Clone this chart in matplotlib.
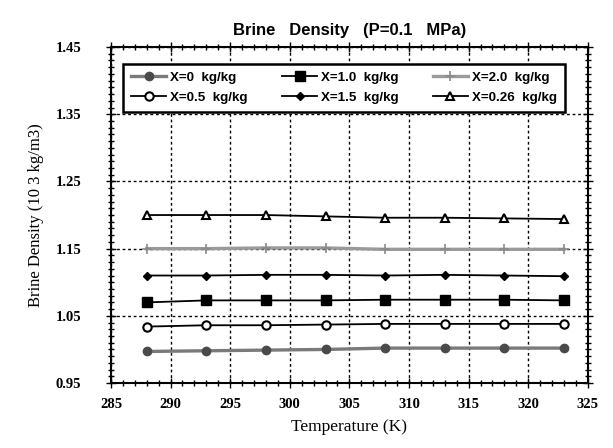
import numpy as np
import matplotlib
matplotlib.use("Agg")
import matplotlib.pyplot as plt
from matplotlib.ticker import MultipleLocator, FormatStrFormatter

# temperatures (K) and brine density (10^3 kg/m3)
temps = [288, 293, 298, 303, 308, 313, 318, 323]
rho_x0 = [0.997, 0.998, 0.999, 1.000, 1.002, 1.002, 1.002, 1.002]
rho_x05 = [1.034, 1.036, 1.036, 1.037, 1.038, 1.038, 1.038, 1.038]
rho_x10 = [1.070, 1.073, 1.073, 1.073, 1.074, 1.074, 1.074, 1.073]
rho_x15 = [1.110, 1.110, 1.111, 1.111, 1.110, 1.111, 1.110, 1.109]
rho_x20 = [1.150, 1.150, 1.151, 1.151, 1.149, 1.149, 1.149, 1.149]
rho_x026 = [1.200, 1.200, 1.200, 1.198, 1.196, 1.196, 1.195, 1.194]

labels = ["X=0  kg/kg", "X=0.5  kg/kg", "X=1.0  kg/kg",
          "X=1.5  kg/kg", "X=2.0  kg/kg", "X=0.26  kg/kg"]

serif = ["Liberation Serif", "DejaVu Serif"]
sans = ["Liberation Sans", "DejaVu Sans"]

fig = plt.figure(figsize=(6.13, 4.48), dpi=100)
ax = fig.add_axes([0.181, 0.145, 0.778, 0.75])

grey = "#7a7a7a"
ax.plot(temps, rho_x0, color=grey, lw=2.4, marker="o", ms=6,
        mfc="#4a4a4a", mec="#4a4a4a", label=labels[0])
ax.plot(temps, rho_x05, color="black", lw=1.3, marker="o", ms=6,
        mfc="white", mec="black", mew=1.5, label=labels[1])
ax.plot(temps, rho_x10, color="black", lw=1.3, marker="s", ms=6.5,
        mfc="black", mec="black", label=labels[2])
ax.plot(temps, rho_x15, color="black", lw=1.3, marker="D", ms=4.5,
        mfc="black", mec="black", label=labels[3])
ax.plot(temps, rho_x20, color="#9a9a9a", lw=2.4, marker="+", ms=7,
        mec="#8a8a8a", mew=1.2, label=labels[4])
ax.plot(temps, rho_x026, color="black", lw=1.3, marker="^", ms=6,
        mfc="white", mec="black", mew=1.5, label=labels[5])

ax.set_xlim(285, 325)
ax.set_ylim(0.95, 1.45)
ax.xaxis.set_major_locator(MultipleLocator(5))
ax.xaxis.set_minor_locator(MultipleLocator(1))
ax.set_yticks(np.arange(0.95, 1.451, 0.1))
ax.yaxis.set_minor_locator(MultipleLocator(0.01))
ax.yaxis.set_major_formatter(FormatStrFormatter("%.2f"))

ax.tick_params(which="both", direction="inout", top=True, right=True,
               width=1.0)
ax.tick_params(which="major", length=7, labelsize=10.5)
ax.tick_params(which="minor", length=4)
ax.tick_params(axis="x", which="major", pad=7)
ax.tick_params(axis="y", which="major", pad=18)
for lab in ax.get_xticklabels() + ax.get_yticklabels():
    lab.set_family(serif)
    lab.set_fontweight("bold")

for s in ax.spines.values():
    s.set_linewidth(1.5)

ax.grid(True, which="major", color="black", linestyle=(0, (2, 2)), lw=1.0)

ax.set_xlabel("Temperature (K)", family=serif, fontsize=12.5, labelpad=6)
ax.set_ylabel("Brine Density (10 3 kg/m3)", family=serif, fontsize=12,
              labelpad=8)
ax.set_title("Brine   Density   (P=0.1   MPa)", family=sans,
             fontweight="bold", fontsize=12, pad=9)

leg = ax.legend(loc="upper left", ncol=3, bbox_to_anchor=(0.012, 0.97),
                prop={"family": sans, "weight": "bold", "size": 9.6},
                frameon=True, fancybox=False, handlelength=2.6,
                columnspacing=2.6, handletextpad=0.3, borderpad=0.6,
                labelspacing=0.55)
leg.get_frame().set_edgecolor("black")
leg.get_frame().set_linewidth(1.8)
leg.get_frame().set_alpha(1)

fig.savefig("out.png", dpi=100)
